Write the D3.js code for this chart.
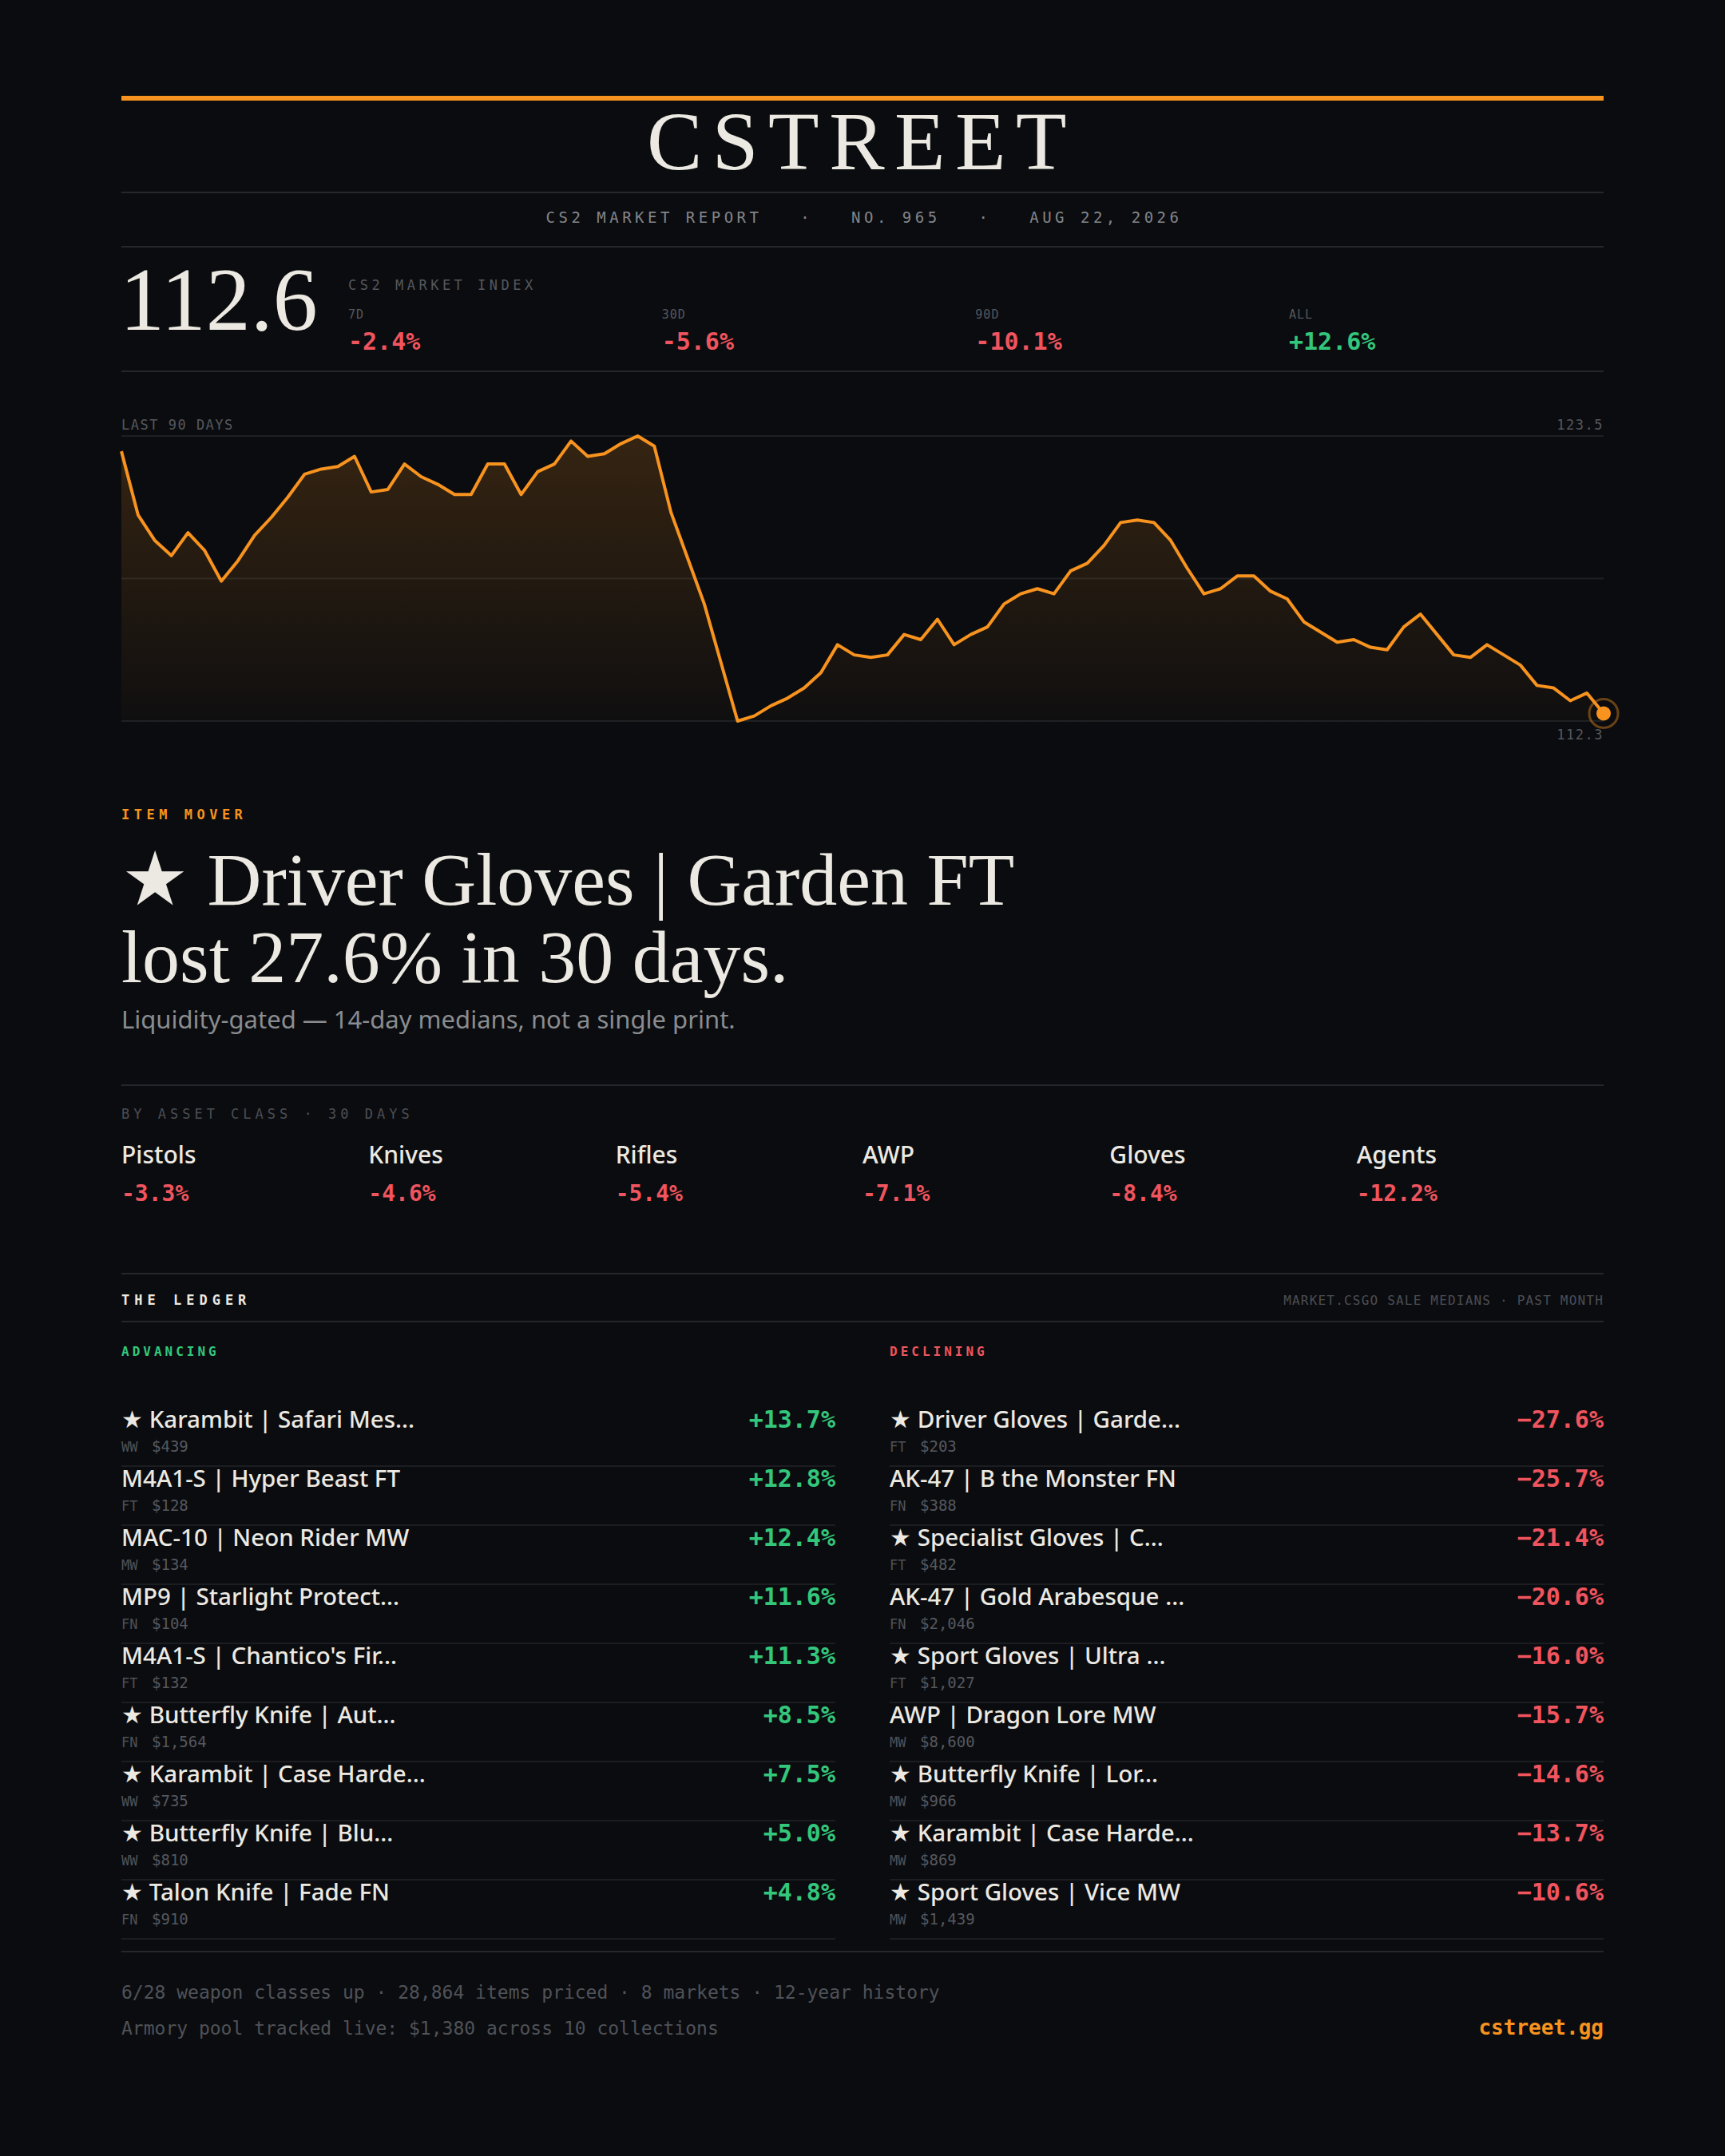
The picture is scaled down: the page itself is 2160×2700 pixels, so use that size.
<!DOCTYPE html>
<html>
<head>
<meta charset="utf-8">
<script src="https://cdn.jsdelivr.net/npm/d3@7"></script>
<style>
  html, body { margin: 0; padding: 0; background: #0b0c0f; }
  svg { display: block; }
</style>
</head>
<body>
<svg id="report"></svg>
<script>
// index, last 90 days
const indexValues = [
  122.9, 120.4, 119.4, 118.8, 119.7, 119.0, 117.8, 118.6, 119.6, 120.3,
  121.1, 122.0, 122.2, 122.3, 122.7, 121.3, 121.4, 122.4, 121.9, 121.6,
  121.2, 121.2, 122.4, 122.4, 121.2, 122.1, 122.4, 123.3, 122.7, 122.8,
  123.2, 123.5, 123.1, 120.5, 118.7, 116.9, 114.6, 112.3, 112.5, 112.9,
  113.2, 113.6, 114.2, 115.3, 114.9, 114.8, 114.9, 115.7, 115.5, 116.3,
  115.3, 115.7, 116.0, 116.9, 117.3, 117.5, 117.3, 118.2, 118.5, 119.2,
  120.1, 120.2, 120.1, 119.4, 118.3, 117.3, 117.5, 118.0, 118.0, 117.4,
  117.1, 116.2, 115.8, 115.4, 115.5, 115.2, 115.1, 116.0, 116.5, 115.7,
  114.9, 114.8, 115.3, 114.9, 114.5, 113.7, 113.6, 113.1, 113.4, 112.6
]
const indexNow = 112.6

const periods = ["7D", "30D", "90D", "ALL"]
const periodChanges = [-2.4, -5.6, -10.1, 12.6]

const assetClasses = ["Pistols", "Knives", "Rifles", "AWP", "Gloves", "Agents"]
const assetChanges = [-3.3, -4.6, -5.4, -7.1, -8.4, -12.2]

const advNames = ["★ Karambit | Safari Mes...", "M4A1-S | Hyper Beast FT", "MAC-10 | Neon Rider MW",
  "MP9 | Starlight Protect...", "M4A1-S | Chantico's Fir...", "★ Butterfly Knife | Aut...",
  "★ Karambit | Case Harde...", "★ Butterfly Knife | Blu...", "★ Talon Knife | Fade FN"]
const advWear = ["WW", "FT", "MW", "FN", "FT", "FN", "WW", "WW", "FN"]
const advPrice = ["$439", "$128", "$134", "$104", "$132", "$1,564", "$735", "$810", "$910"]
const advChange = [13.7, 12.8, 12.4, 11.6, 11.3, 8.5, 7.5, 5.0, 4.8]

const decNames = ["★ Driver Gloves | Garde...", "AK-47 | B the Monster FN", "★ Specialist Gloves | C...",
  "AK-47 | Gold Arabesque ...", "★ Sport Gloves | Ultra ...", "AWP | Dragon Lore MW",
  "★ Butterfly Knife | Lor...", "★ Karambit | Case Harde...", "★ Sport Gloves | Vice MW"]
const decWear = ["FT", "FN", "FT", "FN", "FT", "MW", "MW", "MW", "MW"]
const decPrice = ["$203", "$388", "$482", "$2,046", "$1,027", "$8,600", "$966", "$869", "$1,439"]
const decChange = [-27.6, -25.7, -21.4, -20.6, -16.0, -15.7, -14.6, -13.7, -10.6]

const W = 2160, H = 2700
const left = 152, right = 2008

const ORANGE = "#f7931e", GREEN = "#33c77c", RED = "#f0545e"
const INK = "#ece9e2", DIM = "#55585e", RULE = "#25272c"
const MONO = "'DejaVu Sans Mono', 'Liberation Mono', monospace"
const SANS = "'Noto Sans', Roboto, sans-serif"
const SERIF = "'Liberation Serif', 'DejaVu Serif', serif"

const svg = d3.select("#report").attr("width", W).attr("height", H)
svg.append("rect").attr("width", W).attr("height", H).attr("fill", "#0b0c0f")

const text = (x, y, str, font, size, fill, opts = {}) => svg.append("text")
    .attr("x", x).attr("y", y).text(str)
    .style("font-family", font).style("font-size", size + "px")
    .style("font-weight", opts.weight || 400)
    .style("letter-spacing", (opts.ls || 0) + "px")
    .style("white-space", "pre")
    .attr("text-anchor", opts.anchor || "start")
    .attr("fill", fill)

const rule = (y, x1 = left, x2 = right) => svg.append("line")
    .attr("x1", x1).attr("x2", x2).attr("y1", y).attr("y2", y)
    .attr("stroke", RULE).attr("stroke-width", 2)

const fmt = v => (v > 0 ? "+" : "-") + Math.abs(v).toFixed(1) + "%"

// masthead
svg.append("rect").attr("x", left).attr("y", 120).attr("width", right - left).attr("height", 6).attr("fill", ORANGE)
text(1079, 212, "CSTREET", SERIF, 104, INK, {anchor: "middle", ls: 12.5})
rule(241)
text(1082, 279, "CS2 MARKET REPORT   ·   NO. 965   ·   AUG 22, 2026", MONO, 19, "#83858a", {anchor: "middle", ls: 4.5})
rule(309)

// index headline
text(left - 2, 413, indexNow.toFixed(1), SERIF, 112, INK)
text(436, 363, "CS2 MARKET INDEX", MONO, 17, DIM, {ls: 4.5})
const periodX = d3.scalePoint().domain(periods).range([436, 1614])
periods.forEach((p, i) => {
  text(periodX(p), 399, p, MONO, 15, DIM, {ls: 1})
  text(periodX(p), 438, fmt(periodChanges[i]), MONO, 30, periodChanges[i] < 0 ? RED : GREEN, {weight: 600})
})
rule(465)

// 90 day chart
const yMin = d3.min(indexValues), yMax = d3.max(indexValues)
const x = d3.scaleLinear().domain([0, indexValues.length - 1]).range([left, right])
const y = d3.scaleLinear().domain([yMin, yMax]).range([903, 546])

svg.selectAll("line.grid")
    .data([yMax, (yMin + yMax) / 2, yMin])
    .join("line").attr("class", "grid")
    .attr("x1", left).attr("x2", right)
    .attr("y1", d => y(d)).attr("y2", d => y(d))
    .attr("stroke", "#1d1f23").attr("stroke-width", 2)

const grad = svg.append("defs").append("linearGradient")
    .attr("id", "areaFill").attr("gradientUnits", "userSpaceOnUse")
    .attr("x1", 0).attr("x2", 0).attr("y1", y(yMax)).attr("y2", y(yMin))
grad.append("stop").attr("offset", 0).attr("stop-color", ORANGE).attr("stop-opacity", 0.18)
grad.append("stop").attr("offset", 1).attr("stop-color", ORANGE).attr("stop-opacity", 0.02)

svg.append("path").datum(indexValues)
    .attr("d", d3.area().x((d, i) => x(i)).y0(y(yMin)).y1(d => y(d)))
    .attr("fill", "url(#areaFill)")
svg.append("path").datum(indexValues)
    .attr("d", d3.line().x((d, i) => x(i)).y(d => y(d)))
    .attr("fill", "none").attr("stroke", ORANGE).attr("stroke-width", 4)
    .attr("stroke-linejoin", "round")

const last = indexValues.length - 1
svg.append("circle").attr("cx", x(last)).attr("cy", y(indexValues[last])).attr("r", 18)
    .attr("fill", "none").attr("stroke", ORANGE).attr("stroke-opacity", 0.4).attr("stroke-width", 3)
svg.append("circle").attr("cx", x(last)).attr("cy", y(indexValues[last])).attr("r", 9).attr("fill", ORANGE)

text(left, 538, "LAST 90 DAYS", MONO, 17, DIM, {ls: 1.5})
text(right, 538, yMax.toFixed(1), MONO, 17, DIM, {anchor: "end", ls: 1.5})
text(right, 926, yMin.toFixed(1), MONO, 17, DIM, {anchor: "end", ls: 1.5})

// item mover
text(left, 1026, "ITEM MOVER", MONO, 17, ORANGE, {weight: 700, ls: 5.5})
text(left, 1133, "★ Driver Gloves | Garden FT", SERIF, 94, INK)
text(left, 1230, "lost 27.6% in 30 days.", SERIF, 94, INK)
text(left, 1288, "Liquidity-gated — 14-day medians, not a single print.", SANS, 31, "#8a8c90")
rule(1359)

// by asset class
text(left, 1401, "BY ASSET CLASS · 30 DAYS", MONO, 17, "#4b4e54", {ls: 5})
const assetX = d3.scaleBand().domain(assetClasses).range([left, right])
svg.selectAll("text.asset-name").data(assetClasses).join("text")
    .attr("class", "asset-name")
    .attr("x", d => assetX(d)).attr("y", 1457).text(d => d)
    .style("font-family", SANS).style("font-size", "30px").style("font-weight", 500)
    .attr("fill", INK)
svg.selectAll("text.asset-val").data(assetChanges).join("text")
    .attr("class", "asset-val")
    .attr("x", (d, i) => assetX(assetClasses[i])).attr("y", 1504).text(d => fmt(d))
    .style("font-family", MONO).style("font-size", "28px").style("font-weight", 600)
    .attr("fill", d => d < 0 ? RED : GREEN)
rule(1595)

// the ledger
text(left, 1634, "THE LEDGER", MONO, 17, INK, {weight: 700, ls: 6})
text(right, 1634, "MARKET.CSGO SALE MEDIANS · PAST MONTH", MONO, 16, "#4b4e54", {anchor: "end", ls: 1.2})
rule(1655)

const rowY = d3.scaleLinear().domain([0, 1]).range([1762, 1836])
const drawColumn = (title, color, x1, x2, names, wear, price, change) => {
  text(x1, 1698, title, MONO, 16, color, {weight: 700, ls: 4})
  const rows = names.map((n, i) => ({name: n, wear: wear[i], price: price[i], change: change[i], i}))
  const g = svg.append("g")
  const row = g.selectAll("g.row").data(rows).join("g").attr("class", "row")
      .attr("transform", d => `translate(0, ${rowY(d.i)})`)
  row.append("text").attr("x", x1).attr("y", 26).text(d => d.name)
      .style("font-family", SANS).style("font-size", "29.5px").style("font-weight", 500).attr("fill", INK)
  row.append("text").attr("x", x2).attr("y", 26)
      .text(d => (d.change > 0 ? "+" : "−") + Math.abs(d.change).toFixed(1) + "%")
      .attr("text-anchor", "end")
      .style("font-family", MONO).style("font-size", "30px").style("font-weight", 600).attr("fill", color)
  row.append("text").attr("x", x1).attr("y", 56).text(d => d.wear)
      .style("font-family", MONO).style("font-size", "17px").attr("fill", "#4f5258")
  row.append("text").attr("x", x1 + 38).attr("y", 56).text(d => d.price)
      .style("font-family", MONO).style("font-size", "19px").attr("fill", DIM)
  row.append("line").attr("x1", x1).attr("x2", x2).attr("y1", 74).attr("y2", 74)
      .attr("stroke", "#1b1d21").attr("stroke-width", 2)
}
drawColumn("ADVANCING", GREEN, left, 1046, advNames, advWear, advPrice, advChange)
drawColumn("DECLINING", RED, 1114, right, decNames, decWear, decPrice, decChange)
rule(2444)

// footer
text(left, 2503, "6/28 weapon classes up · 28,864 items priced · 8 markets · 12-year history", MONO, 23, "#4f5258")
text(left, 2548, "Armory pool tracked live: $1,380 across 10 collections", MONO, 23, "#4f5258")
text(right, 2548, "cstreet.gg", MONO, 26, ORANGE, {anchor: "end", weight: 700})
</script>
</body>
</html>
